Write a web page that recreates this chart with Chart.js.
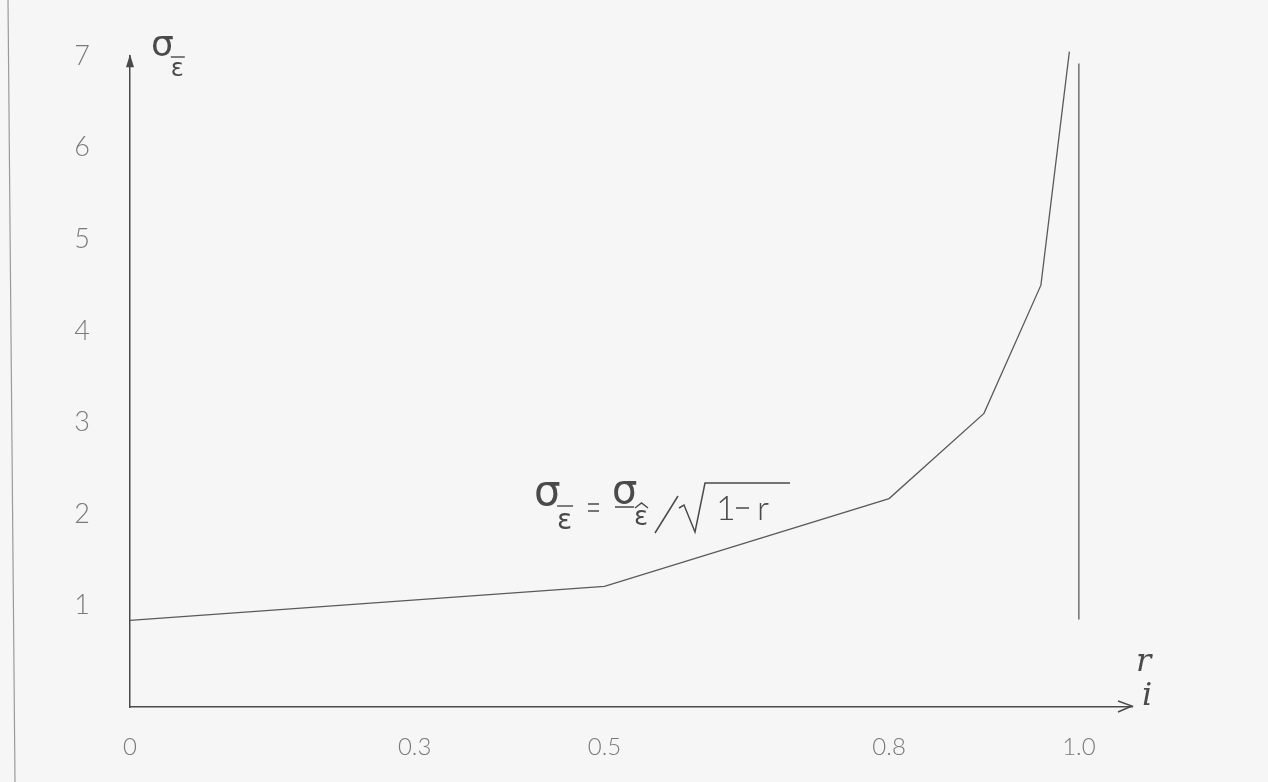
<!DOCTYPE html>
<html>
<head>
<meta charset="utf-8">
<script src="https://cdn.jsdelivr.net/npm/chart.js@4.4.1/dist/chart.umd.min.js"></script>
<style>
  html, body { margin: 0; padding: 0; background: #f6f6f6; }
  #wrap { width: 1268px; height: 782px; position: relative; }
</style>
</head>
<body>
<div id="wrap"><canvas id="sigmaChart"></canvas></div>
<script>
// values
const rValues = [0, 0.5, 0.8, 0.9, 0.96, 0.99];
const sigmaValues = [0.84, 1.21, 2.17, 3.10, 4.50, 7.05];

// vertical asymptote at r = 1
const asymptoteR = [1.0, 1.0];
const asymptoteSigma = [0.85, 6.92];

const xTickValues = [0, 0.3, 0.5, 0.8, 1.0];
const xTickLabels = ['0', '0.3', '0.5', '0.8', '1.0'];
const yTickValues = [1, 2, 3, 4, 5, 6, 7];

const ink = '#4a4a4a';
const tickInk = '#7a7a7a';

// arrows, axis symbols, formula and the page edge of the scan
const decor = {
    id: 'decor',
    beforeDraw(chart) {
        const ctx = chart.ctx;
        ctx.save();
        ctx.strokeStyle = '#9a9a9a';
        ctx.lineWidth = 1.2;
        ctx.beginPath();
        ctx.moveTo(8, 0);
        ctx.lineTo(15, 782);
        ctx.stroke();
        ctx.restore();
    },
    afterDraw(chart) {
        const { ctx, chartArea: a } = chart;
        ctx.save();
        ctx.strokeStyle = ink;
        ctx.fillStyle = ink;
        ctx.lineWidth = 1.4;

        // y arrow (filled)
        ctx.beginPath();
        ctx.moveTo(a.left, a.top - 2);
        ctx.lineTo(a.left - 4, a.top + 11);
        ctx.lineTo(a.left + 4, a.top + 11);
        ctx.closePath();
        ctx.fill();

        // x arrow (open)
        ctx.beginPath();
        ctx.moveTo(a.right - 14, a.bottom - 6);
        ctx.lineTo(a.right, a.bottom - 1);
        ctx.lineTo(a.right - 14, a.bottom + 5);
        ctx.stroke();

        // axis symbols r / i
        ctx.font = 'italic 32px "DejaVu Serif"';
        ctx.textAlign = 'left';
        ctx.textBaseline = 'alphabetic';
        ctx.fillText('r', a.right + 4, a.bottom - 36);
        ctx.fillText('i', a.right + 10, a.bottom - 2);

        // y symbol sigma with subscript e-bar
        drawSigma(ctx, 151, 56, 36, 24, 'bar');

        // formula
        drawSigma(ctx, 534, 505, 42, 28, 'bar');
        ctx.lineWidth = 1.5;
        ctx.beginPath();
        ctx.moveTo(588, 504); ctx.lineTo(599, 504);
        ctx.moveTo(588, 511); ctx.lineTo(599, 511);
        ctx.stroke();
        drawSigma(ctx, 612, 503, 40, 26, 'hat');
        ctx.lineWidth = 1.5;
        ctx.beginPath();
        ctx.moveTo(615, 507);
        ctx.lineTo(634, 507);
        // slash
        ctx.moveTo(655, 533);
        ctx.lineTo(678, 496);
        // radical
        ctx.moveTo(679, 508);
        ctx.lineTo(684, 505);
        ctx.lineTo(695, 532);
        ctx.lineTo(705, 483);
        ctx.lineTo(790, 483);
        // minus
        ctx.moveTo(736, 508);
        ctx.lineTo(749, 508);
        ctx.stroke();
        ctx.font = '300 34px Lato';
        ctx.fillText('1', 716, 520);
        ctx.fillText('r', 757, 520);
        ctx.restore();
    }
};

function drawSigma(ctx, x, y, size, subSize, mark) {
    ctx.font = size + 'px "DejaVu Sans"';
    ctx.textAlign = 'left';
    ctx.textBaseline = 'alphabetic';
    ctx.fillText('\u03c3', x, y);
    const sx = x + size * 0.55;
    ctx.font = subSize + 'px "DejaVu Sans"';
    ctx.fillText('\u03b5', sx, y + subSize * 0.85);
    const w = subSize * 0.5;
    ctx.lineWidth = 1.4;
    ctx.beginPath();
    if (mark === 'bar') {
        ctx.moveTo(sx, y + 1);
        ctx.lineTo(sx + w + 2, y + 1);
    } else {
        ctx.moveTo(sx + 1, y + 5);
        ctx.lineTo(sx + w / 2 + 1, y);
        ctx.lineTo(sx + w + 1, y + 5);
    }
    ctx.stroke();
}

new Chart(document.getElementById('sigmaChart'), {
    type: 'scatter',
    data: {
        datasets: [{
            data: rValues.map((r, i) => ({ x: r, y: sigmaValues[i] })),
            showLine: true,
            borderColor: '#5a5a5a',
            borderWidth: 1.3,
            pointRadius: 0,
            clip: false
        }, {
            data: asymptoteR.map((r, i) => ({ x: r, y: asymptoteSigma[i] })),
            showLine: true,
            borderColor: '#5a5a5a',
            borderWidth: 1.3,
            pointRadius: 0,
            clip: false
        }]
    },
    options: {
        responsive: true,
        maintainAspectRatio: false,
        animation: false,
        layout: { padding: { top: 38, right: 136, left: 0, bottom: 0 } },
        plugins: { legend: { display: false }, tooltip: { enabled: false } },
        scales: {
            x: {
                type: 'linear',
                min: 0,
                max: 1.056,
                afterBuildTicks: s => { s.ticks = xTickValues.map(v => ({ value: v })); },
                afterFit: s => { s.height = 75; },
                grid: { display: false, drawTicks: false },
                border: { display: true, color: ink, width: 1.5 },
                ticks: {
                    padding: 26,
                    color: tickInk,
                    font: { family: 'Lato', weight: 300, size: 24 },
                    callback: v => xTickLabels[xTickValues.indexOf(v)]
                }
            },
            y: {
                min: -0.106,
                max: 7,
                afterBuildTicks: s => { s.ticks = yTickValues.map(v => ({ value: v })); },
                afterFit: s => { s.width = 130; },
                grid: { display: false, drawTicks: false },
                border: { display: true, color: ink, width: 1.5 },
                ticks: {
                    padding: 40,
                    color: tickInk,
                    font: { family: 'Lato', weight: 300, size: 27 }
                }
            }
        }
    },
    plugins: [decor]
});
</script>
</body>
</html>
